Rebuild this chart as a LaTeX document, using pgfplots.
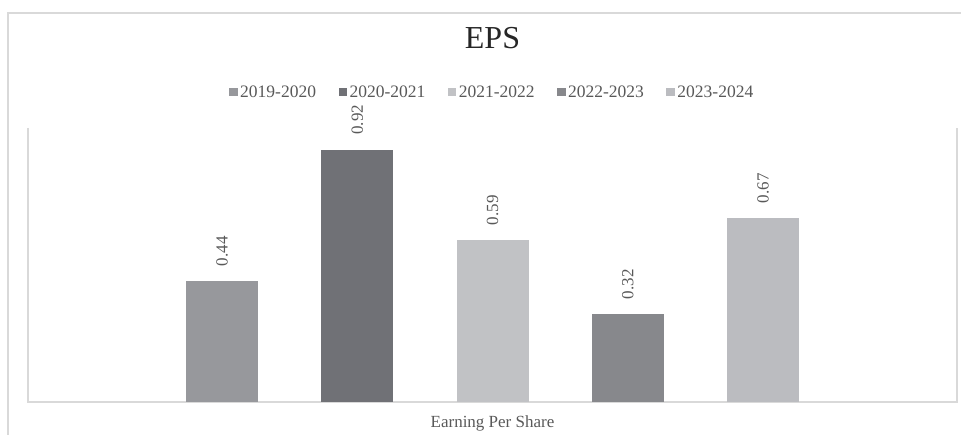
\documentclass[border=0pt]{standalone}
\usepackage{pgfplots}
\pgfplotsset{compat=1.18}
\usepackage{fontspec}
\setmainfont{Liberation Serif}
\definecolor{cA}{HTML}{97989C}
\definecolor{cB}{HTML}{707176}
\definecolor{cC}{HTML}{C1C2C5}
\definecolor{cD}{HTML}{87888C}
\definecolor{cE}{HTML}{BBBCC0}
\definecolor{bordergray}{HTML}{D9D9D9}
\definecolor{txtgray}{HTML}{595959}
\definecolor{titlecol}{HTML}{262626}
\begin{document}
\begin{tikzpicture}
\path[use as bounding box] (0,0) rectangle (961pt,435pt);
\draw[color=bordergray, line width=1.5pt] (8pt,-10pt) -- (8pt,422pt) -- (975pt,422pt);
\begin{axis}[
  at={(28pt,33pt)}, anchor=south west,
  scale only axis, width=929pt, height=274pt,
  xmin=-0.434, xmax=6.434, ymin=0, ymax=1,
  axis line style={draw=none}, ticks=none,
  clip=false,
  ybar, bar width=72pt,
  /pgf/number format/assume math mode=true,
  nodes near coords,
  nodes near coords style={rotate=90, anchor=west, inner xsep=15pt, inner ysep=0pt,
    font=\fontsize{17}{17}\selectfont, text=txtgray,
    /pgf/number format/fixed, /pgf/number format/precision=2, /pgf/number format/fixed zerofill},
  title={EPS},
  title style={at={(axis description cs:0.5,1.269)}, anchor=base, font=\fontsize{32}{32}\selectfont, text=titlecol},
  xlabel={Earning Per Share},
  xlabel style={at={(axis description cs:0.5,-0.0949)}, anchor=base, font=\fontsize{17}{17}\selectfont, text=txtgray},
  legend columns=5,
  legend image code/.code={\fill[#1] (0pt,-4.25pt) rectangle (8.5pt,4.25pt);},
  legend style={at={(axis description cs:0.5,1.131)}, anchor=center, draw=none, fill=none,
    font=\fontsize{17.5}{18}\selectfont, text=txtgray,
    /tikz/every even column/.append style={column sep=20pt},
    nodes={inner xsep=2.5pt, inner ysep=1pt}},
]
\draw[color=bordergray, line width=1.5pt] (rel axis cs:0,1) -- (rel axis cs:0,0) -- (rel axis cs:1,0) -- (rel axis cs:1,1);
\addplot[fill=cA, draw=none, bar shift=0pt] coordinates {(1,0.44)};
\addplot[fill=cB, draw=none, bar shift=0pt] coordinates {(2,0.92)};
\addplot[fill=cC, draw=none, bar shift=0pt] coordinates {(3,0.59)};
\addplot[fill=cD, draw=none, bar shift=0pt] coordinates {(4,0.32)};
\addplot[fill=cE, draw=none, bar shift=0pt] coordinates {(5,0.67)};
\legend{2019-2020,2020-2021,2021-2022,2022-2023,2023-2024}
\end{axis}
\end{tikzpicture}
\end{document}
